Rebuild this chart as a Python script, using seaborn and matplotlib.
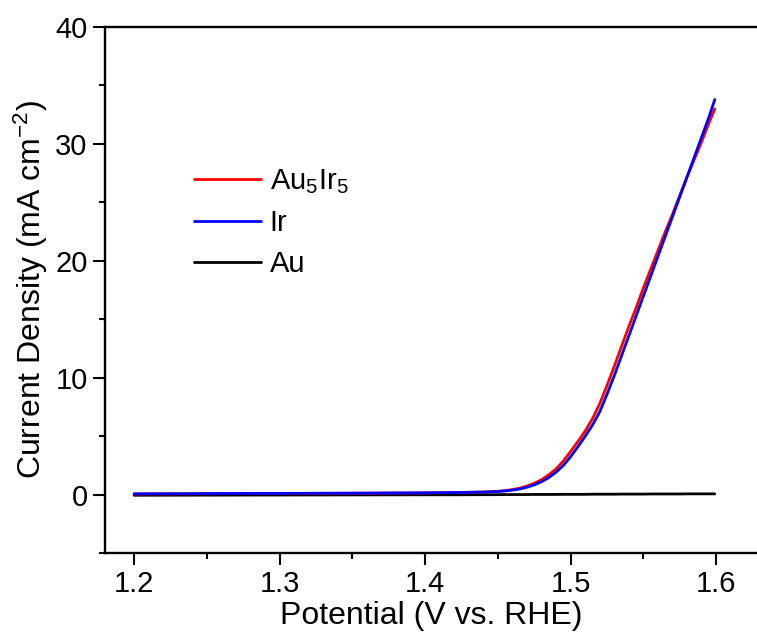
import numpy as np
import pandas as pd
import matplotlib
matplotlib.use("Agg")
import matplotlib.pyplot as plt
import seaborn as sns

# ---- data ----
potential = [1.20, 1.25, 1.30, 1.35, 1.40, 1.42, 1.44, 1.45, 1.455, 1.46,
             1.465, 1.47, 1.475, 1.48, 1.485, 1.49, 1.495, 1.50, 1.505, 1.51,
             1.515, 1.52, 1.525, 1.53, 1.535, 1.54, 1.545, 1.55, 1.555, 1.56,
             1.565, 1.57, 1.575, 1.58, 1.585, 1.59, 1.595, 1.599]
j_au5ir5 = [0.05, 0.07, 0.09, 0.11, 0.14, 0.17, 0.22, 0.28, 0.34, 0.43,
            0.55, 0.73, 0.97, 1.28, 1.70, 2.20, 2.88, 3.70, 4.55, 5.45,
            6.50, 7.80, 9.35, 11.0, 12.7, 14.4, 16.0, 17.7, 19.3, 20.9,
            22.5, 24.0, 25.6, 27.2, 28.7, 30.2, 31.8, 33.0]
j_ir = [0.06, 0.08, 0.10, 0.12, 0.15, 0.17, 0.21, 0.26, 0.31, 0.38,
        0.48, 0.63, 0.83, 1.10, 1.46, 1.92, 2.50, 3.25, 4.10, 5.00,
        5.95, 7.10, 8.60, 10.2, 11.9, 13.6, 15.3, 17.0, 18.7, 20.4,
        22.1, 23.8, 25.5, 27.2, 28.9, 30.6, 32.3, 33.8]
j_au = [-0.06, -0.05, -0.04, -0.03, -0.02, -0.02, -0.01, -0.01, 0.0, 0.0,
        0.0, 0.0, 0.01, 0.01, 0.01, 0.01, 0.02, 0.02, 0.02, 0.02,
        0.03, 0.03, 0.03, 0.03, 0.04, 0.04, 0.04, 0.04, 0.05, 0.05,
        0.05, 0.05, 0.05, 0.06, 0.06, 0.06, 0.06, 0.06]

labels = [r"Au$_5$Ir$_5$", "Ir", "Au"]
colors = ["#ff0000", "#0000ff", "#000000"]
xticks = [1.2, 1.3, 1.4, 1.5, 1.6]
yticks = [0, 10, 20, 30, 40]

n = len(potential)
df = pd.DataFrame({
    "V": potential * 3,
    "J": j_au5ir5 + j_ir + j_au,
    "series": [labels[0]] * n + [labels[1]] * n + [labels[2]] * n,
})

sns.set_style("ticks")
plt.rcParams["font.family"] = ["Liberation Sans", "DejaVu Sans"]
plt.rcParams["mathtext.fontset"] = "custom"
plt.rcParams["mathtext.rm"] = "Liberation Sans"
plt.rcParams["mathtext.it"] = "Liberation Sans"
plt.rcParams["mathtext.default"] = "regular"
plt.rcParams["text.color"] = "black"
plt.rcParams["axes.labelcolor"] = "black"

fig = plt.figure(figsize=(7.57, 6.42), dpi=100)
ax = fig.add_axes([105 / 757, 89 / 642, 652 / 757, 526 / 642])

draw_order = [2, 0, 1]
for i in draw_order:
    sub = df[df["series"] == labels[i]]
    sns.lineplot(data=sub, x="V", y="J", color=colors[i], lw=2.0, ax=ax,
                 label=labels[i], estimator=None, sort=True)

h, l = ax.get_legend_handles_labels()
hm = dict(zip(l, h))
ax.legend([hm[k] for k in labels], labels, frameon=False, fontsize=21,
          loc="upper left", bbox_to_anchor=(0.1365, 0.733), handlelength=2.3,
          handletextpad=0.3, labelspacing=0.45, borderaxespad=0, borderpad=0)

ax.set_xlim(1.18, 1.628)
ax.set_ylim(-5, 40)
ax.set_xticks(xticks)
ax.set_xticklabels([f"{t:.1f}" for t in xticks])
ax.set_yticks(yticks)
ax.set_xticks(np.arange(1.25, 1.6, 0.1), minor=True)
ax.set_yticks([-5, 5, 15, 25, 35], minor=True)

ax.tick_params(which="major", direction="out", length=8.5, width=1.5, labelsize=21,
               colors="black", pad=4)
ax.tick_params(which="minor", direction="out", length=4.5, width=1.5, colors="black")
for s in ["left", "bottom", "top"]:
    ax.spines[s].set_linewidth(1.7)
    ax.spines[s].set_color("black")
ax.spines["right"].set_visible(False)

ax.set_xlabel("Potential (V vs. RHE)", fontsize=23, labelpad=2)
ax.set_ylabel(r"Current Density (mA cm$^{-2}$)", fontsize=23, labelpad=4)

fig.savefig("out.png", dpi=100)
